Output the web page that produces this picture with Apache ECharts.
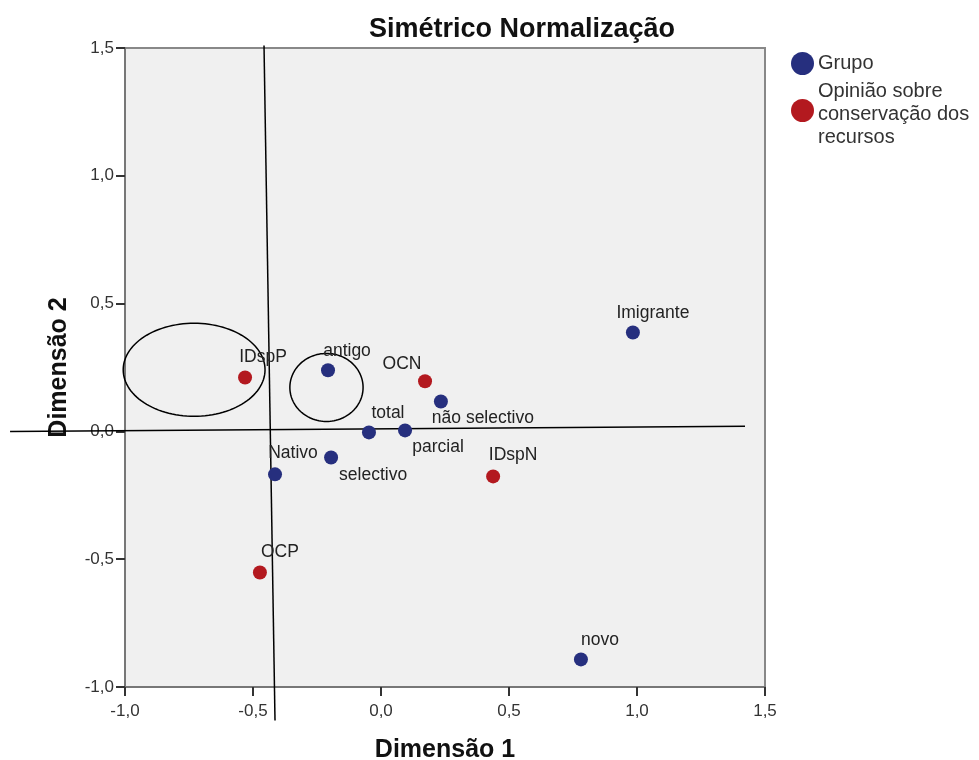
<!DOCTYPE html>
<html>
<head>
<meta charset="utf-8">
<script src="https://cdn.jsdelivr.net/npm/echarts@6/dist/echarts.min.js"></script>
<style>html,body{margin:0;padding:0;background:#fff;}#c{width:979px;height:760px;}</style>
</head>
<body>
<div id="c"></div>
<script>
// ---- data ----
var grupoNames = ['antigo', 'não selectivo', 'total', 'parcial', 'Nativo', 'selectivo', 'Imigrante', 'novo'];
var grupoX = [-0.207, 0.234, -0.047, 0.094, -0.414, -0.195, 0.984, 0.781];
var grupoY = [0.239, 0.117, -0.004, 0.004, -0.168, -0.102, 0.387, -0.892];

var opiniaoNames = ['IDspP', 'OCN', 'IDspN', 'OCP'];
var opiniaoX = [-0.531, 0.172, 0.438, -0.473];
var opiniaoY = [0.211, 0.196, -0.176, -0.552];

var tickValues = [-1.0, -0.5, 0.0, 0.5, 1.0, 1.5];
var tickLabels = ['-1,0', '-0,5', '0,0', '0,5', '1,0', '1,5'];

// annotation lines drawn on the chart (data coordinates): x1, y1, x2, y2
var lineX1 = [-1.449, -0.457];
var lineY1 = [0.0, 1.51];
var lineX2 = [1.422, -0.414];
var lineY2 = [0.02, -1.131];

// annotation ellipses: centre x, centre y, radius x, radius y (data units)
var ellipseCX = [-0.730, -0.213];
var ellipseCY = [0.241, 0.172];
var ellipseRX = [0.277, 0.143];
var ellipseRY = [0.182, 0.133];

// ---- label placement (style) ----
var labelOffsets = {
  'IDspP': [18, -20], 'antigo': [19, -19], 'OCN': [-23, -17], 'não selectivo': [42, 17],
  'total': [19, -19], 'parcial': [33, 17], 'Nativo': [18, -21], 'selectivo': [42, 18],
  'IDspN': [20, -21], 'Imigrante': [20, -19], 'OCP': [20, -20], 'novo': [19, -19]
};
var SYM = 14;

function buildPoints(names, xs, ys) {
  return names.map(function (n, i) {
    var o = labelOffsets[n] || [0, -18];
    return {
      name: n,
      value: [xs[i], ys[i]],
      label: { position: [SYM / 2 + o[0], SYM / 2 + o[1]] }
    };
  });
}

function fmt(v) {
  var idx = tickValues.findIndex(function (t) { return Math.abs(t - v) < 1e-9; });
  return idx >= 0 ? tickLabels[idx] : String(v);
}

var lineData = lineX1.map(function (x, i) { return [x, lineY1[i], lineX2[i], lineY2[i]]; });
var ellipseData = ellipseCX.map(function (c, i) { return [c, ellipseCY[i], ellipseRX[i], ellipseRY[i]]; });

var FONT = '"Liberation Sans", Arial, sans-serif';
var chart = echarts.init(document.getElementById('c'));
var labelStyle = {
  show: true, formatter: '{b}', color: '#222', fontSize: 17.5, fontFamily: FONT,
  align: 'center', verticalAlign: 'middle'
};
var axisCommon = {
  type: 'value', min: -1.0, max: 1.5, interval: 0.5,
  nameLocation: 'middle',
  nameTextStyle: { fontFamily: FONT, fontSize: 25, fontWeight: 'bold', color: '#111' },
  axisLine: { show: true, onZero: false, lineStyle: { color: '#777', width: 2 } },
  axisTick: { show: true, inside: false, length: 9, lineStyle: { color: '#333', width: 2 } },
  splitLine: { show: false }
};
var legendText = { fontFamily: FONT, fontSize: 20, color: '#333', lineHeight: 23 };

chart.setOption({
  animation: false,
  backgroundColor: '#fff',
  title: {
    text: 'Simétrico Normalização',
    left: 517, top: 11, textAlign: 'center',
    textStyle: { fontFamily: FONT, fontSize: 27, fontWeight: 'bold', color: '#111' }
  },
  legend: {
    orient: 'vertical', left: 786, top: 47,
    data: ['Grupo', 'Opinião sobre conservação dos recursos'],
    icon: 'circle', itemWidth: 23, itemHeight: 23, itemGap: -3,
    formatter: function (n) {
      return n === 'Grupo' ? '{t|Grupo}' : '{s| }\n{t|Opinião sobre}\n{t|conservação dos}\n{t|recursos}';
    },
    textStyle: {
      fontFamily: FONT, fontSize: 20, color: '#333', lineHeight: 23, padding: [0, 0, 0, -1],
      rich: { t: legendText, s: { fontSize: 1, lineHeight: 8 } }
    },
    selectedMode: false
  },
  grid: {
    left: 125, right: 214, top: 48, bottom: 73,
    containLabel: false, outerBoundsMode: 'none',
    show: true, backgroundColor: '#f0f0f0', borderColor: '#888', borderWidth: 2
  },
  xAxis: Object.assign({}, axisCommon, {
    name: 'Dimensão 1', nameGap: 51,
    axisLabel: { formatter: fmt, fontFamily: FONT, fontSize: 17, color: '#333', margin: 16 }
  }),
  yAxis: Object.assign({}, axisCommon, {
    name: 'Dimensão 2', nameGap: 53,
    axisLabel: { formatter: fmt, fontFamily: FONT, fontSize: 17, color: '#333', margin: 11 }
  }),
  series: [
    {
      type: 'custom', name: 'lines', data: lineData, clip: false, silent: true, z: 3,
      renderItem: function (params, api) {
        var p1 = api.coord([api.value(0), api.value(1)]);
        var p2 = api.coord([api.value(2), api.value(3)]);
        return { type: 'line', shape: { x1: p1[0], y1: p1[1], x2: p2[0], y2: p2[1] }, style: { stroke: '#000', lineWidth: 1.5 } };
      }
    },
    {
      type: 'custom', name: 'ellipses', data: ellipseData, clip: false, silent: true, z: 3,
      renderItem: function (params, api) {
        var c = api.coord([api.value(0), api.value(1)]);
        var s = api.size([api.value(2), api.value(3)]);
        var pts = [];
        for (var k = 0; k < 120; k++) {
          var a = k / 120 * Math.PI * 2;
          pts.push([c[0] + s[0] * Math.cos(a), c[1] + s[1] * Math.sin(a)]);
        }
        return { type: 'polygon', shape: { points: pts }, style: { fill: 'none', stroke: '#000', lineWidth: 1.5 } };
      }
    },
    {
      type: 'scatter', name: 'Grupo', symbolSize: SYM, z: 5,
      itemStyle: { color: '#262f7e', opacity: 1 },
      label: labelStyle,
      data: buildPoints(grupoNames, grupoX, grupoY)
    },
    {
      type: 'scatter', name: 'Opinião sobre conservação dos recursos', symbolSize: SYM, z: 5,
      itemStyle: { color: '#b3191f', opacity: 1 },
      label: labelStyle,
      data: buildPoints(opiniaoNames, opiniaoX, opiniaoY)
    }
  ]
});
</script>
</body>
</html>
